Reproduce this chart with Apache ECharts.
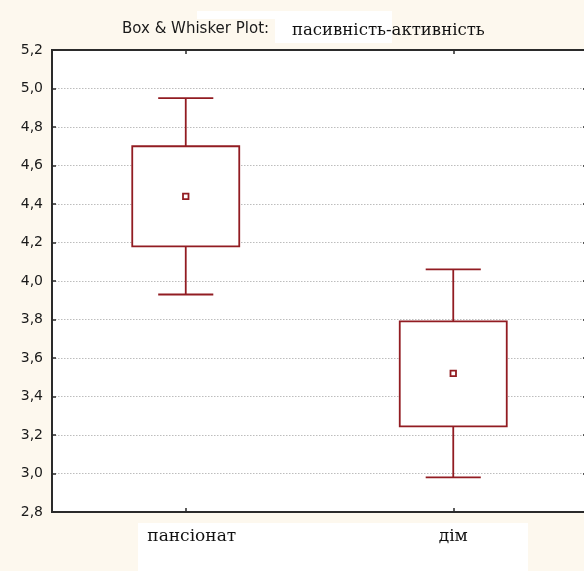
<!DOCTYPE html>
<html>
<head>
<meta charset="utf-8">
<script src="https://cdn.jsdelivr.net/npm/echarts@6/dist/echarts.min.js"></script>
<style>
html,body{margin:0;padding:0;background:#fdf8ee;}
#chart{width:584px;height:571px;}
</style>
</head>
<body>
<div id="chart"></div>
<script>
// ---- data ----
var categories = ['пансіонат', 'дім'];
var means = [4.44, 3.52];
var boxLow = [4.18, 3.245];
var boxHigh = [4.70, 3.79];
var whiskerLow = [3.93, 2.98];
var whiskerHigh = [4.95, 4.06];
var yTicks = {min: 2.8, max: 5.2, interval: 0.2};
var titleLeft = 'Box & Whisker Plot:';
var titleRight = 'пасивність-активність';

var RED = '#921c22';
var AXIS = '#2b2b2b';

var seriesData = categories.map(function (c, i) {
  return [i, means[i], boxLow[i], boxHigh[i], whiskerLow[i], whiskerHigh[i]];
});

function renderItem(params, api) {
  var idx = api.value(0);
  var pMean = api.coord([idx, api.value(1)]);
  var yBL = api.coord([idx, api.value(2)])[1];
  var yBH = api.coord([idx, api.value(3)])[1];
  var yWL = api.coord([idx, api.value(4)])[1];
  var yWH = api.coord([idx, api.value(5)])[1];
  var band = api.size([1, 0])[0];
  var x = pMean[0];
  var bw = band * 0.4;
  var cw = band * 0.206;
  var st = {stroke: RED, lineWidth: 1.8, fill: null};
  return {
    type: 'group',
    children: [
      {type: 'line', shape: {x1: x, y1: yWH, x2: x, y2: yBH}, style: st},
      {type: 'line', shape: {x1: x, y1: yBL, x2: x, y2: yWL}, style: st},
      {type: 'line', shape: {x1: x - cw / 2, y1: yWH, x2: x + cw / 2, y2: yWH}, style: st},
      {type: 'line', shape: {x1: x - cw / 2, y1: yWL, x2: x + cw / 2, y2: yWL}, style: st},
      {type: 'rect', shape: {x: x - bw / 2, y: yBH, width: bw, height: yBL - yBH},
        style: {stroke: RED, lineWidth: 1.8, fill: '#ffffff'}},
      {type: 'rect', shape: {x: pMean[0] - 2.75, y: pMean[1] - 2.75, width: 5.5, height: 5.5},
        style: {stroke: RED, lineWidth: 1.8, fill: '#ffffff'}}
    ]
  };
}

var chart = echarts.init(document.getElementById('chart'), null, {renderer: 'canvas'});
chart.setOption({
  backgroundColor: '#fdf8ee',
  animation: false,
  graphic: [
    {type: 'rect', left: 275, top: 11, shape: {width: 117, height: 32}, style: {fill: '#ffffff'}, z: -10},
    {type: 'rect', left: 197, top: 11, shape: {width: 80, height: 8}, style: {fill: '#ffffff'}, z: -10},
    {type: 'rect', left: 138, top: 523, shape: {width: 390, height: 48}, style: {fill: '#ffffff'}, z: -10}
  ],
  title: [
    {text: titleLeft, left: 122, top: 22, padding: 0,
      textStyle: {fontFamily: 'DejaVu Sans', fontSize: 15, fontWeight: 'normal', color: '#1a1a1a'}},
    {text: titleRight, left: 292, top: 22, padding: 0,
      textStyle: {fontFamily: 'DejaVu Serif', fontSize: 16.5, fontWeight: 'normal', color: '#111111'}}
  ],
  grid: {left: 52, top: 50, width: 535, height: 462, outerBoundsMode: 'none', containLabel: false,
    show: true, backgroundColor: '#ffffff', borderColor: AXIS, borderWidth: 2},
  xAxis: [
    {type: 'category', data: categories, position: 'bottom',
      axisLine: {show: true, lineStyle: {color: AXIS, width: 2}},
      axisTick: {show: true, inside: true, alignWithLabel: true, length: 4, lineStyle: {color: AXIS, width: 1.5}},
      axisLabel: {margin: 16, fontFamily: 'DejaVu Serif', fontSize: 17, color: '#111111',
        formatter: function (v, i) { return i === 0 ? '{s|' + v + '}' : v; },
        rich: {s: {fontFamily: 'DejaVu Serif', fontSize: 17, color: '#111111', padding: [0, 0, 0, 12]}}},
      splitLine: {show: false}},
    {type: 'category', data: categories, position: 'top',
      axisLine: {show: true, lineStyle: {color: AXIS, width: 2}},
      axisTick: {show: true, inside: true, alignWithLabel: true, length: 4, lineStyle: {color: AXIS, width: 1.5}},
      axisLabel: {show: false}, splitLine: {show: false}}
  ],
  yAxis: [
    {type: 'value', min: yTicks.min, max: yTicks.max, interval: yTicks.interval, position: 'left',
      axisLine: {show: true, lineStyle: {color: AXIS, width: 2}},
      axisTick: {show: true, inside: true, length: 4, lineStyle: {color: AXIS, width: 1.5}},
      axisLabel: {margin: 9, fontFamily: 'DejaVu Sans', fontSize: 14, color: '#1a1a1a',
        formatter: function (v) { return v.toFixed(1).replace('.', ','); }},
      splitLine: {show: true, lineStyle: {color: '#bdbdbd', width: 1, type: [1.5, 1.5]}}},
    {type: 'value', min: yTicks.min, max: yTicks.max, interval: yTicks.interval, position: 'right',
      axisLine: {show: true, lineStyle: {color: AXIS, width: 2}},
      axisTick: {show: true, inside: true, length: 4, lineStyle: {color: AXIS, width: 1.5}},
      axisLabel: {show: false}, splitLine: {show: false}}
  ],
  series: [{
    type: 'custom',
    renderItem: renderItem,
    data: seriesData,
    encode: {x: 0, y: [1, 2, 3, 4, 5]},
    z: 5
  }]
});
</script>
</body>
</html>
